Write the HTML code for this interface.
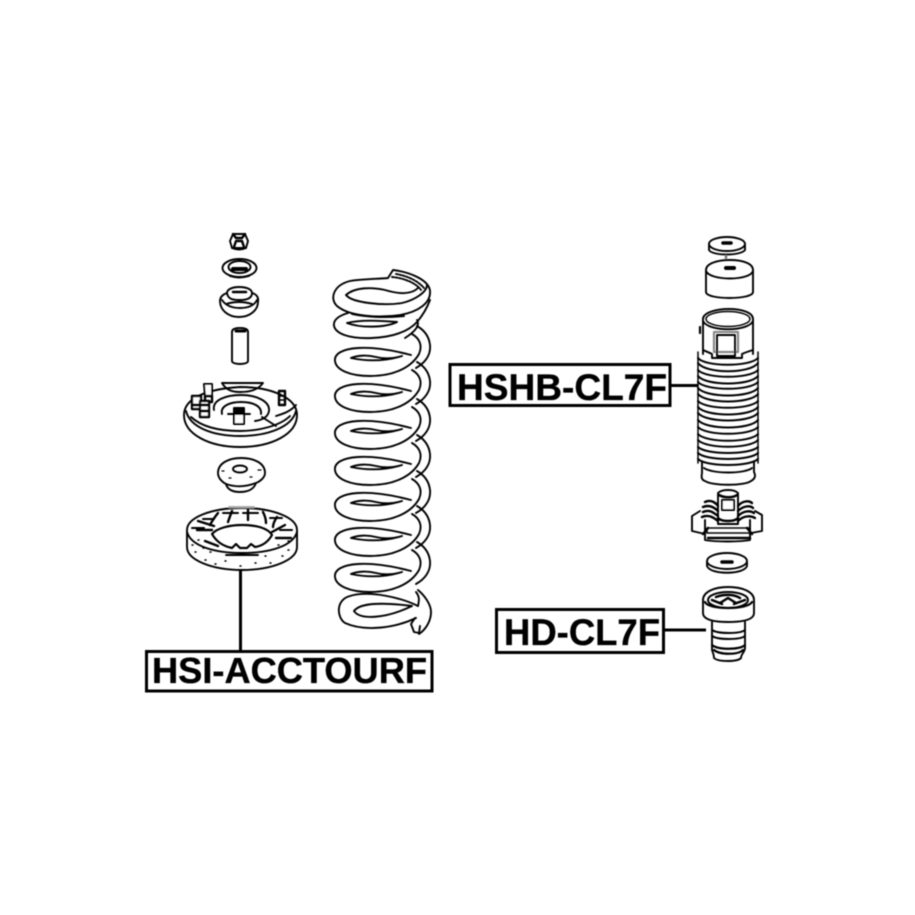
<!DOCTYPE html>
<html><head><meta charset="utf-8"><style>
html,body{margin:0;padding:0;background:#fff}
svg{display:block}
text{font-family:"Liberation Sans",sans-serif;font-weight:bold;fill:#000;stroke:#000;stroke-width:.35}
</style></head><body>
<svg width="915" height="915" viewBox="0 0 915 915" xmlns="http://www.w3.org/2000/svg">
<defs>
<filter id="b" x="-5%" y="-5%" width="110%" height="110%"><feGaussianBlur stdDeviation="0.6"/></filter>
<g id="coil">
<path d="M411 -3C392 -8 375 -11 358 -10C342 -9 334 -4 335 3C336 12 350 18 370 18C393 18 411 10 419 -4C423 -13 419 -20 412 -24"/>
<path d="M416 10C425 5 431 -3 430 -13C429 -22 424 -28 417 -32"/>
<path d="M351 0C365 3 382 4 402 -2M351 0C358 -3 368 -3 376 -1C384 1 392 1 402 -2"/>
</g>
</defs>
<g filter="url(#b)">
<g fill="none" stroke="#000" stroke-width="1.9" stroke-linecap="round" stroke-linejoin="round">

<!-- nut -->
<path d="M230 241L233 234H245L248 241L246 248H232Z"/>
<path d="M234 247L236 241H242L244 247M233 234L236 238H242L245 234" stroke-width="2.4"/>
<path d="M232 248Q239 251 246 248"/>
<!-- washer -->
<ellipse cx="239.5" cy="268" rx="17" ry="9"/>
<ellipse cx="239.5" cy="267" rx="11" ry="6"/>
<path d="M233 269H246" stroke-width="4"/>
<path d="M230 276Q239 279 249 276"/>
<!-- bump mount -->
<path d="M220 301C220 296 224 294 227 293C227 290 231 287 239 287C248 287 252 290 252 293C256 294 259 297 258 302C258 310 250 317 239 317C228 317 220 310 220 301Z"/>
<path d="M227 293C228 299 232 300 240 300C247 300 252 298 252 293M222 300C226 306 232 308 240 308C248 308 254 306 257 300"/>
<path d="M233 292H246" stroke-width="2.5"/>
<path d="M226 304Q239 300 252 304"/>
<!-- tube -->
<path d="M232 332C232 329 236 328 240 328C244 328 248 329 248 332V361C248 365 232 365 232 361Z"/>
<path d="M236 331H245" stroke-width="3"/>

<!-- top mount -->
<path d="M184 415C184 398 207 389 240 387C272 387 297 398 297 415C297 434 272 447 240 447C209 447 184 434 184 415Z"/>
<path d="M186 411C190 427 212 436 240 436C268 436 292 427 296 411"/>
<path d="M191 417C202 427 220 431 240 431C258 431 280 426 290 416"/>
<path d="M222 383C226 390 232 392 240 392C250 392 258 390 263 383M222 383H263"/>
<path d="M214 410C212 400 226 395 241 395C258 395 270 402 269 411C268 417 262 420 255 421"/>
<path d="M222 414C220 406 230 402 241 402C253 402 262 406 261 414"/>
<path d="M262 417L276 426M296 405C290 412 282 414 276 416"/>
<path d="M204 384H212V396H205Z" fill="#fff" stroke-width="2"/>
<path d="M205 396H212V402H205Z" stroke-width="2.4"/>
<path d="M192 396H201V409H192Z" fill="#fff" stroke-width="2.4"/>
<path d="M200 401H209V417H200Z" fill="#fff" stroke-width="2.4"/>
<path d="M193 405H208M201 411H208" stroke-width="3"/>
<path d="M279 391H285V405H279Z" stroke-width="2.4"/>
<path d="M279 396H284M279 400H284" stroke-width="1.5"/>
<path d="M234 408H244V424H234Z" fill="#fff" stroke-width="2"/>
<path d="M235 410H243V414H235Z" fill="#000"/>
<path d="M228 414H250"/>

<!-- cap -->
<path d="M218 473C218 463 229 458 241 458C254 458 265 463 265 473C265 478 259 482 256 483C254 489 248 492 240 492C232 492 227 489 226 484C222 482 218 478 218 473Z"/>
<ellipse cx="240" cy="469" rx="7" ry="3.500"/>
<path d="M226 484Q240 489 256 483"/>
<path d="M222 471h2M258 470h3M229 478h2M250 477h2" stroke-width="1.2"/>

<!-- ring -->
<path d="M187 530C187 518 210 508 242 508C274 508 297 518 297 530V547C297 560 272 570 242 570C212 570 187 560 187 547Z"/>
<path d="M187 532C191 546 214 553 242 553C270 553 293 546 297 532"/>
<path d="M212 534C217 528 230 525 242 525C256 525 268 528 272 535C268 542 262 546 255 547L251 544 247 548H240L236 544 232 548C222 546 216 541 212 534Z" stroke-width="2.2"/>
<path d="M218 513C214 518 212 521 210 525M232 511C230 516 229 519 228 522M248 510V520M263 512C265 516 266 519 266 523M277 517C275 520 273 524 273 527M198 521L214 526M285 525L272 532M197 530H212M276 538H291M205 541L218 546" stroke-width="2.4"/>
<path d="M223 513H238M243 513H258M203 519H214M270 518H282M192 528H204M280 530H292" stroke-width="2"/>
<path d="M226 555H258"/>
<path d="M195 552h1M205 560h1M215 564h1M270 563h1M282 556h1M288 550h1M240 566h1M203 548h1M278 545h1M192 545h1M198 540h1M288 541h1M210 552h1M265 556h1M225 561h1M255 563h1" stroke-width="1.5"/>
<path d="M229 507H254" stroke="#aaa"/>

<!-- spring -->
<use href="#coil" y="358"/>
<use href="#coil" y="394"/>
<use href="#coil" y="431"/>
<use href="#coil" y="467"/>
<use href="#coil" y="503"/>
<use href="#coil" y="538"/>
<use href="#coil" y="574"/>
<!-- spring top -->
<path d="M388 278L393 270C410 272 429 280 430 291C431 303 418 312 400 315C380 318 350 317 337 306C329 298 334 285 350 281C362 279 378 279 388 278"/>
<path d="M346 295C355 287 372 287 385 290C395 293 410 296 418 288M346 295C352 303 385 306 402 303C415 300 427 292 427 285"/>
<path d="M392 277C404 278 416 283 421 290M396 274C408 276 418 281 424 288" stroke-dasharray="2 1.500"/>
<path d="M348 313C338 316 333 320 334 326C336 334 350 339 372 338C392 337 408 332 417 322C423 315 427 308 430 300"/>
<path d="M347 323C358 320 375 320 397 322M347 323C360 328 385 328 397 322"/>
<path d="M352 314C365 317 385 318 404 316" />
<path d="M405 338C416 331 420 325 417 320"/>
<!-- spring bottom -->
<path d="M418 590C424 595 431 604 431 612C431 622 425 630 419 634"/>
<path d="M416 592C420 597 419 601 418 606"/>
<path d="M418 606C402 598 370 590 350 596C335 600 337 618 345 623C365 632 395 628 416 618"/>
<path d="M354 611C360 603 380 602 412 606M354 611C360 620 385 619 412 606"/>
<path d="M415 618L411 624 414 632 419 633 420 626"/>

<!-- boss washer -->
<ellipse cx="727" cy="244" rx="18" ry="7"/>
<path d="M709 245V250C712 256 741 256 745 250V245"/>
<path d="M723 243H731" stroke-width="3.500"/>
<path d="M726 256V258" stroke-width="2.500" stroke="#777"/>
<!-- cylinder -->
<path d="M706 270C706 264 716 260 730 260C744 260 753 264 753 270V292C753 300 706 300 706 292Z"/>
<path d="M706 271C710 281 750 281 753 271"/>
<path d="M726 268H734" stroke-width="4"/>
<!-- boot -->
<path d="M703 354V319C703 313 715 309 729 309C743 309 753 313 753 319V354"/>
<ellipse cx="728" cy="319" rx="22" ry="7.500" stroke-width="1.500"/>
<path d="M703 321C708 332 748 332 753 321"/>
<path d="M714 332H738V352H714Z" stroke="#888" stroke-width="2.200"/>
<path d="M717 335H735V356H717Z"/>
<path d="M703 350C705 351 708 352 712 354V358H742V354C746 352 750 351 753 350"/>
<path d="M700 327V333" stroke-width="2.200"/>
<!-- bellows -->
<path d="M698 352V463M758 352V463" stroke-width="1.500"/>
<path d="M698 358C705 367 750 367 758 358M698 363C706 374 750 374 758 363M698 370C706 379 750 379 758 370M698 376C706 386 750 386 758 376M698 382C706 391 750 391 758 382M698 388C706 398 750 398 758 388M698 394C706 404 750 404 758 394M698 401C706 410 750 410 758 401M698 407C706 417 750 417 758 407M698 413C706 423 750 423 758 413M698 420C706 430 750 430 758 420M698 427C706 436 750 436 758 427M698 434C706 443 750 443 758 434M698 440C706 449 750 449 758 440M698 447C706 455 750 455 758 447M698 453C706 461 750 461 758 453M698 459C706 467 750 467 758 459" stroke-width="2"/>
<path d="M702 462V473C701 478 702 480 705 481C712 486 745 486 751 481C755 479 756 476 754 472V462"/>
<path d="M704 468C712 474 745 474 752 468"/>

<!-- bracket -->
<path d="M718 512V493C722 489 734 489 738 493V524H718Z"/>
<path d="M722 500H734V510H722Z" fill="#fff"/>
<path d="M719 495C724 498 733 498 737 495" stroke-width="2.500"/>
<path d="M718 518C722 522 734 522 738 518" stroke-width="2.500"/>
<path d="M705 502C711 499 716 503 718 506M703 507C710 504 715 508 718 511M703 512C710 509 714 513 718 516M702 517C709 514 714 518 718 521" stroke-width="2.400"/>
<path d="M738 506C742 501 749 500 752 503M738 511C743 506 750 505 753 508M738 516C743 511 750 510 754 513M738 521C743 516 750 515 755 518" stroke-width="2.400"/>
<path d="M700 511L692 516V531L705 534M755 511L762 515V531L751 533"/>
<path d="M705 520V540C715 542 740 542 750 540V520"/>
<path d="M707 528H750V533H707Z" stroke-width="1.500"/>
<path d="M708 538H750" stroke-width="2.500"/>
<path d="M703 534L708 528M752 534L747 528" stroke-width="2.500"/>

<!-- washer 2 -->
<ellipse cx="727" cy="561" rx="20" ry="8"/>
<path d="M707 562V566C710 575 744 575 747 566V562"/>
<path d="M722 562H732" stroke-width="3.500"/>

<!-- bump stop -->
<path d="M703 600C703 592 714 587 728 587C743 587 754 592 754 600V613C754 619 745 622 728 622C712 622 703 619 703 613Z"/>
<ellipse cx="728" cy="600" rx="20" ry="8" stroke-width="2"/>
<path d="M705 602C708 610 748 610 752 602" stroke-width="2.200"/>
<path d="M716 597C724 594 734 594 740 598M720 603L728 598 736 603M712 600L722 604M734 604L745 600" stroke-width="2.500"/>
<path d="M712 622V650C713 653 714 655 714 658C718 662 738 662 741 658C741 654 745 652 745 648V622"/>
<path d="M712 630C718 634 740 634 745 630M712 636C718 640 740 640 745 636" stroke-width="2"/>
<path d="M712 645C718 650 740 650 745 645M714 650C720 655 738 655 743 650" stroke-width="2.200"/>
</g>

<!-- labels -->
<g fill="none" stroke="#000" stroke-width="3">
<path d="M240.500 569V650"/>
<path d="M671 385.500H698"/>
<path d="M664 630H706"/>
<rect x="146.500" y="651.500" width="285.500" height="39.500"/>
<rect x="450" y="364.500" width="220" height="41"/>
<rect x="496.500" y="609.500" width="167" height="43"/>
</g>
<text x="152" y="683" font-size="36" textLength="275" lengthAdjust="spacingAndGlyphs">HSI-ACCTOURF</text>
<text x="457" y="400" font-size="37" textLength="210" lengthAdjust="spacingAndGlyphs">HSHB-CL7F</text>
<text x="504" y="645" font-size="37" textLength="156" lengthAdjust="spacingAndGlyphs">HD-CL7F</text>
</g>
</svg>
</body></html>
